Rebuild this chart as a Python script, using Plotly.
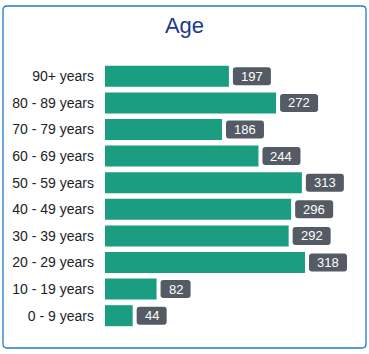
import plotly.graph_objects as go

categories = ["90+ years", "80 - 89 years", "70 - 79 years", "60 - 69 years",
              "50 - 59 years", "40 - 49 years", "30 - 39 years", "20 - 29 years",
              "10 - 19 years", "0 - 9 years"]
counts = [197, 272, 186, 244, 313, 296, 292, 318, 82, 44]
chart_title = "Age"

BAR_COLOR = "#1a9d80"
BOX_COLOR = "#545b64"
FONT = "Arial, Liberation Sans, sans-serif"

W, H = 369, 354
ML, MR, MT, MB = 105, 14, 63, 25

fig = go.Figure()
fig.add_trace(go.Bar(
    x=counts, y=categories, orientation="h",
    marker=dict(color=BAR_COLOR, line=dict(width=0)),
    hoverinfo="skip",
))

shapes = []
annotations = []
r = 3
for i, (c, v) in enumerate(zip(categories, counts)):
    w = 14 + 8 * len(str(v))
    x0, x1 = 4, 4 + w
    y0, y1 = -9, 9
    path = (f"M{x0+r},{y0} L{x1-r},{y0} Q{x1},{y0} {x1},{y0+r} "
            f"L{x1},{y1-r} Q{x1},{y1} {x1-r},{y1} L{x0+r},{y1} "
            f"Q{x0},{y1} {x0},{y1-r} L{x0},{y0+r} Q{x0},{y0} {x0+r},{y0} Z")
    shapes.append(dict(
        type="path", xref="x", yref="y",
        xsizemode="pixel", ysizemode="pixel",
        xanchor=v, yanchor=i, path=path,
        fillcolor=BOX_COLOR, line=dict(width=0), layer="above",
    ))
    annotations.append(dict(
        x=v, y=c, xref="x", yref="y", text=str(v), showarrow=False,
        xanchor="center", yanchor="middle", xshift=4 + w / 2,
        font=dict(family=FONT, size=13, color="white"),
    ))

# rounded outer border (pixel offsets from plot-area bottom-left)
bx0, bx1 = 3 - ML, 366 - ML
by0, by1 = (H - MB) - 348, (H - MB) - 6
br = 4
bpath = (f"M{bx0+br},{by0} L{bx1-br},{by0} Q{bx1},{by0} {bx1},{by0+br} "
         f"L{bx1},{by1-br} Q{bx1},{by1} {bx1-br},{by1} L{bx0+br},{by1} "
         f"Q{bx0},{by1} {bx0},{by1-br} L{bx0},{by0+br} Q{bx0},{by0} {bx0+br},{by0} Z")
shapes.append(dict(
    type="path", xref="paper", yref="paper",
    xsizemode="pixel", ysizemode="pixel", xanchor=0, yanchor=0,
    path=bpath, line=dict(color="#1f7bcc", width=1.3), fillcolor="rgba(0,0,0,0)",
))

fig.update_layout(
    width=W, height=H,
    margin=dict(l=ML, r=MR, t=MT, b=MB),
    paper_bgcolor="white", plot_bgcolor="white",
    title=dict(text=chart_title, x=0.5, xanchor="center", y=1 - 25 / H, yanchor="middle",
               font=dict(family=FONT, size=22, color="#1b3a8c")),
    xaxis=dict(range=[0, 397.5], visible=False, fixedrange=True),
    yaxis=dict(autorange="reversed", showgrid=False, zeroline=False, showline=False,
               ticks="", ticklabelstandoff=10,
               tickfont=dict(family=FONT, size=14, color="#222222")),
    bargap=0.21,
    showlegend=False,
    shapes=shapes,
    annotations=annotations,
)

fig.write_html("out.html", config=dict(displayModeBar=False))
